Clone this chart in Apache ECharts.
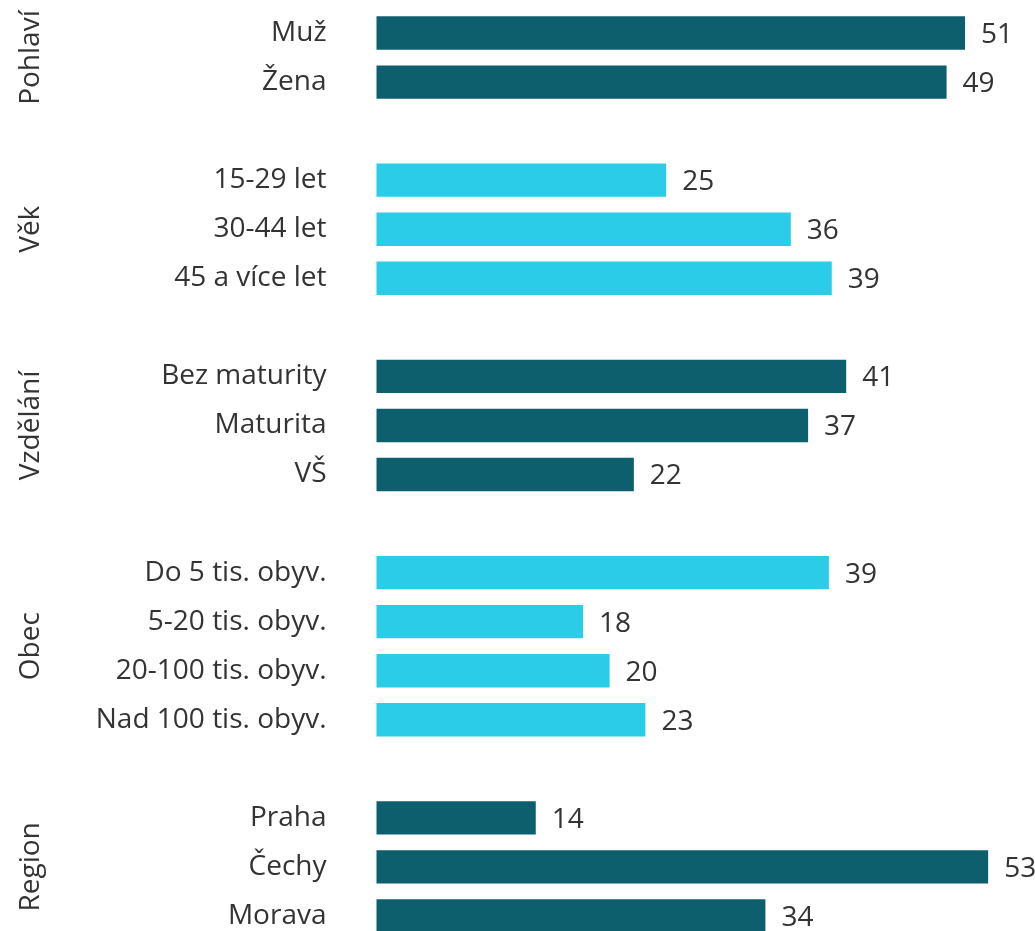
<!DOCTYPE html>
<html>
<head>
<meta charset="utf-8">
<script src="https://cdn.jsdelivr.net/npm/echarts@6/dist/echarts.min.js"></script>
<style>
  html, body { margin: 0; padding: 0; background: #fff; }
  #main { width: 1035px; height: 931px; }
</style>
</head>
<body>
<div id="main"></div>
<script>
// skupiny, kategorie a hodnoty (%)
const groupNames = ["Pohlaví", "Věk", "Vzdělání", "Obec", "Region"];
const groupCats = [
  ["Muž", "Žena"],
  ["15-29 let", "30-44 let", "45 a více let"],
  ["Bez maturity", "Maturita", "VŠ"],
  ["Do 5 tis. obyv.", "5-20 tis. obyv.", "20-100 tis. obyv.", "Nad 100 tis. obyv."],
  ["Praha", "Čechy", "Morava"]
];
// popisky u pruhů (zaokrouhlené)
const groupLabels = [
  [51, 49],
  [25, 36, 39],
  [41, 37, 22],
  [39, 18, 20, 23],
  [14, 53, 34]
];
// délky pruhů (nezaokrouhlené)
const groupValues = [
  [51.0, 49.4],
  [25.1, 35.9, 39.45],
  [40.7, 37.4, 22.3],
  [39.2, 17.9, 20.2, 23.3],
  [13.8, 53.0, 33.7]
];
const groupColors = ["#0d5f6e", "#2bcce8", "#0d5f6e", "#2bcce8", "#0d5f6e"];

// poskládat kategorie s mezerou mezi skupinami
const categories = [];
const barData = [];
const groupCenters = [];
groupCats.forEach((cats, g) => {
  if (g > 0) {
    categories.push(" ".repeat(g));
    barData.push(null);
  }
  const start = categories.length;
  cats.forEach((c, i) => {
    categories.push(c);
    barData.push({
      value: groupValues[g][i],
      shown: groupLabels[g][i],
      itemStyle: { color: groupColors[g] }
    });
  });
  groupCenters.push((start + categories.length - 1) / 2);
});

const chart = echarts.init(document.getElementById("main"));
const font = "'Open Sans', 'Noto Sans', sans-serif";

chart.setOption({
  animation: false,
  grid: { left: 376.5, width: 657.8, top: 8.5, height: 932, outerBoundsMode: "none" },
  xAxis: { type: "value", min: 0, max: 57, show: false },
  yAxis: [
    {
      type: "category",
      data: categories,
      inverse: true,
      axisLine: { show: false },
      axisTick: { show: false },
      axisLabel: { fontSize: 28, color: "#333", margin: 50, fontFamily: font }
    },
    {
      type: "value",
      min: -0.5,
      max: categories.length - 0.5,
      inverse: true,
      position: "left",
      axisLine: { show: false },
      axisTick: { show: false },
      splitLine: { show: false },
      axisLabel: {
        customValues: groupCenters,
        formatter: (v) => groupNames[groupCenters.indexOf(v)] || "",
        rotate: 90,
        fontSize: 28,
        color: "#333",
        margin: 331,
        fontFamily: font
      }
    }
  ],
  series: [
    {
      type: "bar",
      data: barData,
      barCategoryGap: "32%",
      label: {
        show: true,
        position: "right",
        distance: 16,
        offset: [0, 2],
        fontSize: 28,
        color: "#333",
        fontFamily: font,
        formatter: (p) => p.data.shown
      }
    }
  ]
});
</script>
</body>
</html>
